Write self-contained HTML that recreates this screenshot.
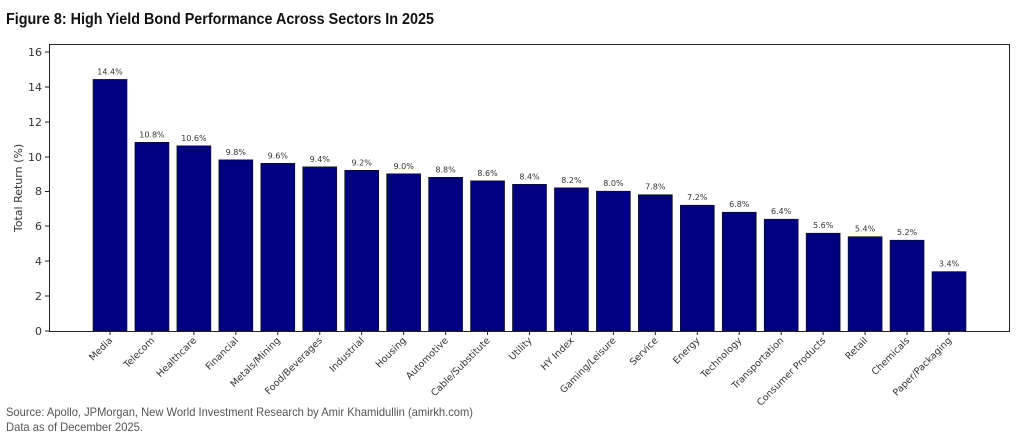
<!DOCTYPE html>
<html><head><style>
body{margin:0;background:#fff;width:1024px;height:439px;overflow:hidden}
</style></head><body>
<svg width="1024" height="439" xmlns="http://www.w3.org/2000/svg" font-family="'DejaVu Sans','Liberation Sans',sans-serif">
<text x="6" y="24" font-family="'Liberation Sans',sans-serif" font-weight="bold" font-size="16" fill="#111" textLength="428" lengthAdjust="spacingAndGlyphs">Figure 8: High Yield Bond Performance Across Sectors In 2025</text>
<g fill="#000080" stroke="#111" stroke-width="0.6">
<rect x="93" y="79.4" width="34" height="251.6"/>
<rect x="134.95" y="142.3" width="34" height="188.7"/>
<rect x="176.9" y="145.8" width="34" height="185.2"/>
<rect x="218.85" y="159.8" width="34" height="171.2"/>
<rect x="260.8" y="163.3" width="34" height="167.7"/>
<rect x="302.75" y="166.8" width="34" height="164.2"/>
<rect x="344.7" y="170.3" width="34" height="160.7"/>
<rect x="386.65" y="173.8" width="34" height="157.2"/>
<rect x="428.6" y="177.3" width="34" height="153.7"/>
<rect x="470.55" y="180.8" width="34" height="150.2"/>
<rect x="512.5" y="184.3" width="34" height="146.7"/>
<rect x="554.45" y="187.8" width="34" height="143.2"/>
<rect x="596.4" y="191.2" width="34" height="139.8"/>
<rect x="638.35" y="194.7" width="34" height="136.3"/>
<rect x="680.3" y="205.2" width="34" height="125.8"/>
<rect x="722.25" y="212.2" width="34" height="118.8"/>
<rect x="764.2" y="219.2" width="34" height="111.8"/>
<rect x="806.15" y="233.2" width="34" height="97.8"/>
<rect x="848.1" y="236.7" width="34" height="94.3"/>
<rect x="890.05" y="240.2" width="34" height="90.8"/>
<rect x="932" y="271.6" width="34" height="59.4"/>
</g>
<g font-size="8" fill="#333" text-anchor="middle">
<text x="110" y="74.4">14.4%</text>
<text x="151.95" y="137.3">10.8%</text>
<text x="193.9" y="140.8">10.6%</text>
<text x="235.85" y="154.8">9.8%</text>
<text x="277.8" y="158.3">9.6%</text>
<text x="319.75" y="161.8">9.4%</text>
<text x="361.7" y="165.3">9.2%</text>
<text x="403.65" y="168.8">9.0%</text>
<text x="445.6" y="172.3">8.8%</text>
<text x="487.55" y="175.8">8.6%</text>
<text x="529.5" y="179.3">8.4%</text>
<text x="571.45" y="182.8">8.2%</text>
<text x="613.4" y="186.2">8.0%</text>
<text x="655.35" y="189.7">7.8%</text>
<text x="697.3" y="200.2">7.2%</text>
<text x="739.25" y="207.2">6.8%</text>
<text x="781.2" y="214.2">6.4%</text>
<text x="823.15" y="228.2">5.6%</text>
<text x="865.1" y="231.7">5.4%</text>
<text x="907.05" y="235.2">5.2%</text>
<text x="949" y="266.6">3.4%</text>
</g>
<g stroke="#222">
<line x1="110" x2="110" y1="331" y2="335"/><line x1="151.95" x2="151.95" y1="331" y2="335"/><line x1="193.9" x2="193.9" y1="331" y2="335"/><line x1="235.85" x2="235.85" y1="331" y2="335"/><line x1="277.8" x2="277.8" y1="331" y2="335"/><line x1="319.75" x2="319.75" y1="331" y2="335"/><line x1="361.7" x2="361.7" y1="331" y2="335"/><line x1="403.65" x2="403.65" y1="331" y2="335"/><line x1="445.6" x2="445.6" y1="331" y2="335"/><line x1="487.55" x2="487.55" y1="331" y2="335"/><line x1="529.5" x2="529.5" y1="331" y2="335"/><line x1="571.45" x2="571.45" y1="331" y2="335"/><line x1="613.4" x2="613.4" y1="331" y2="335"/><line x1="655.35" x2="655.35" y1="331" y2="335"/><line x1="697.3" x2="697.3" y1="331" y2="335"/><line x1="739.25" x2="739.25" y1="331" y2="335"/><line x1="781.2" x2="781.2" y1="331" y2="335"/><line x1="823.15" x2="823.15" y1="331" y2="335"/><line x1="865.1" x2="865.1" y1="331" y2="335"/><line x1="907.05" x2="907.05" y1="331" y2="335"/><line x1="949" x2="949" y1="331" y2="335"/>
</g>
<g font-size="9.5" fill="#333" text-anchor="end">
<text transform="translate(113,341) rotate(-45)">Media</text>
<text transform="translate(154.95,341) rotate(-45)">Telecom</text>
<text transform="translate(196.9,341) rotate(-45)">Healthcare</text>
<text transform="translate(238.85,341) rotate(-45)">Financial</text>
<text transform="translate(280.8,341) rotate(-45)">Metals/Mining</text>
<text transform="translate(322.75,341) rotate(-45)">Food/Beverages</text>
<text transform="translate(364.7,341) rotate(-45)">Industrial</text>
<text transform="translate(406.65,341) rotate(-45)">Housing</text>
<text transform="translate(448.6,341) rotate(-45)">Automotive</text>
<text transform="translate(490.55,341) rotate(-45)">Cable/Substitute</text>
<text transform="translate(532.5,341) rotate(-45)">Utility</text>
<text transform="translate(574.45,341) rotate(-45)">HY Index</text>
<text transform="translate(616.4,341) rotate(-45)">Gaming/Leisure</text>
<text transform="translate(658.35,341) rotate(-45)">Service</text>
<text transform="translate(700.3,341) rotate(-45)">Energy</text>
<text transform="translate(742.25,341) rotate(-45)">Technology</text>
<text transform="translate(784.2,341) rotate(-45)">Transportation</text>
<text transform="translate(826.15,341) rotate(-45)">Consumer Products</text>
<text transform="translate(868.1,341) rotate(-45)">Retail</text>
<text transform="translate(910.05,341) rotate(-45)">Chemicals</text>
<text transform="translate(952,341) rotate(-45)">Paper/Packaging</text>
</g>
<rect x="49.5" y="44.5" width="960" height="287" fill="none" stroke="#222" stroke-width="1"/>
<g font-size="11" fill="#333" text-anchor="end">
<g stroke="#222"><line x1="45" x2="49" y1="331" y2="331"/><line x1="45" x2="49" y1="296" y2="296"/><line x1="45" x2="49" y1="261" y2="261"/><line x1="45" x2="49" y1="226" y2="226"/><line x1="45" x2="49" y1="191.5" y2="191.5"/><line x1="45" x2="49" y1="157" y2="157"/><line x1="45" x2="49" y1="122" y2="122"/><line x1="45" x2="49" y1="87" y2="87"/><line x1="45" x2="49" y1="52" y2="52"/></g>
<text x="42" y="335">0</text><text x="42" y="300">2</text><text x="42" y="265">4</text><text x="42" y="230">6</text><text x="42" y="195">8</text><text x="42" y="161">10</text><text x="42" y="126">12</text><text x="42" y="91">14</text><text x="42" y="56">16</text>
</g>
<text transform="translate(22,188) rotate(-90)" font-size="11" fill="#333" text-anchor="middle">Total Return (%)</text>
<text x="6" y="416" font-family="'Liberation Sans',sans-serif" font-size="12" fill="#555" textLength="467" lengthAdjust="spacingAndGlyphs">Source: Apollo, JPMorgan, New World Investment Research by Amir Khamidullin (amirkh.com)</text>
<text x="6" y="431" font-family="'Liberation Sans',sans-serif" font-size="12" fill="#555" textLength="137" lengthAdjust="spacingAndGlyphs">Data as of December 2025.</text>
</svg>
</body></html>
